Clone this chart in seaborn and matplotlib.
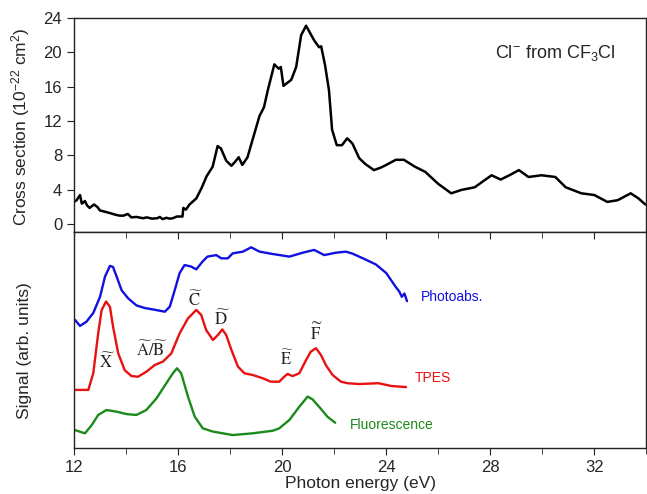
import numpy as np
import pandas as pd
import matplotlib
matplotlib.use("Agg")
import matplotlib.pyplot as plt
import seaborn as sns

# Cl- cross section (top panel), photon energy in eV / 1e-22 cm^2
xs_energy = [12.0, 12.1, 12.23, 12.3, 12.42, 12.5, 12.6, 12.77, 12.9, 13.0, 13.2, 13.38, 13.6,
             13.76, 13.9, 14.07, 14.2, 14.4, 14.65, 14.8, 15.0, 15.2, 15.3, 15.4, 15.55, 15.68,
             15.8, 15.95, 16.17, 16.2, 16.3, 16.44, 16.7, 16.9, 17.1, 17.33, 17.52, 17.65, 17.85,
             18.05, 18.2, 18.33, 18.47, 18.67, 18.86, 19.13, 19.3, 19.45, 19.7, 19.87, 19.95,
             20.05, 20.35, 20.54, 20.73, 20.92, 21.23, 21.42, 21.5, 21.65, 21.8, 21.92, 22.1,
             22.3, 22.5, 22.7, 22.96, 23.2, 23.53, 23.8, 24.0, 24.37, 24.68, 25.1, 25.5, 26.0,
             26.5, 26.9, 27.4, 28.05, 28.4, 28.8, 29.1, 29.47, 29.97, 30.5, 30.9, 31.5, 32.0,
             32.5, 32.9, 33.4, 33.7, 33.96]
xs_sigma = [2.6, 2.8, 3.4, 2.4, 2.7, 2.2, 1.9, 2.3, 2.0, 1.6, 1.45, 1.3, 1.1,
            1.0, 1.0, 1.2, 0.8, 0.85, 0.7, 0.8, 0.65, 0.7, 0.85, 0.6, 0.75, 0.65,
            0.7, 0.9, 0.9, 1.9, 1.7, 2.3, 3.0, 4.2, 5.6, 6.7, 9.1, 8.8, 7.4,
            6.8, 7.3, 7.8, 6.9, 7.8, 9.8, 12.6, 13.6, 15.6, 18.6, 18.1, 18.3,
            16.1, 16.8, 18.3, 22.0, 23.1, 21.4, 20.6, 20.7, 18.5, 15.6, 11.0, 9.2,
            9.2, 10.0, 9.4, 7.7, 7.0, 6.3, 6.6, 6.9, 7.5, 7.5, 6.7, 6.1, 4.7,
            3.6, 4.0, 4.3, 5.7, 5.2, 5.8, 6.3, 5.5, 5.7, 5.5, 4.3, 3.6, 3.4,
            2.6, 2.8, 3.6, 3.0, 2.3]

# bottom panel signals (arb. units, offset as in the original)
pa_energy = [12.04, 12.23, 12.48, 12.74, 13.0, 13.19, 13.38, 13.5, 13.64, 13.83, 14.08, 14.4,
             14.72, 15.1, 15.49, 15.68, 15.87, 16.06, 16.25, 16.5, 16.7, 16.94, 17.13, 17.47,
             17.66, 17.91, 18.1, 18.49, 18.81, 19.13, 19.64, 20.28, 20.79, 21.23, 21.62,
             22.06, 22.45, 22.7, 23.07, 23.6, 24.0, 24.37, 24.5, 24.6, 24.7, 24.8]
pa_signal = [5.93, 5.65, 5.85, 6.25, 7.0, 7.93, 8.43, 8.38, 7.93, 7.3, 6.93, 6.6,
             6.48, 6.4, 6.31, 6.54, 7.3, 8.1, 8.47, 8.4, 8.27, 8.63, 8.86, 8.93,
             8.78, 8.78, 9.01, 9.09, 9.29, 9.09, 8.98, 8.86, 9.04, 9.17, 8.93,
             9.04, 9.09, 9.0, 8.8, 8.5, 8.1, 7.45, 7.25, 7.0, 7.15, 6.8]

tpes_energy = [12.04, 12.55, 12.74, 12.93, 13.06, 13.23, 13.38, 13.5, 13.7, 13.95, 14.21,
               14.46, 14.78, 15.1, 15.42, 15.74, 16.06, 16.38, 16.7, 16.89, 17.08, 17.34,
               17.53, 17.7, 17.85, 18.05, 18.3, 18.55, 18.87, 19.25, 19.57, 19.89, 20.08,
               20.21, 20.4, 20.66, 20.92, 21.1, 21.3, 21.49, 21.68, 21.94, 22.26, 22.51,
               22.96, 23.7, 24.2, 24.76]
tpes_signal = [2.69, 2.69, 3.46, 5.31, 6.38, 6.78, 6.54, 5.62, 4.38, 3.6, 3.33,
               3.3, 3.53, 3.84, 4.0, 4.38, 5.31, 6.0, 6.39, 6.16, 5.46, 5.0,
               5.23, 5.49, 5.23, 4.54, 3.77, 3.46, 3.38, 3.23, 3.07, 3.07, 3.3,
               3.43, 3.33, 3.46, 4.07, 4.46, 4.62, 4.31, 3.84, 3.38, 3.07, 3.0,
               2.96, 3.0, 2.87, 2.82]

fl_energy = [12.04, 12.42, 12.68, 12.93, 13.25, 13.64, 14.02, 14.4, 14.78, 15.17, 15.55,
             15.8, 15.96, 16.12, 16.38, 16.64, 16.95, 17.34, 18.1, 18.87, 19.64, 19.89,
             20.28, 20.66, 20.98, 21.17, 21.42, 21.74, 22.04]
fl_signal = [0.83, 0.68, 1.06, 1.53, 1.76, 1.68, 1.57, 1.53, 1.76, 2.3, 3.0,
             3.46, 3.69, 3.46, 2.38, 1.45, 0.91, 0.76, 0.6, 0.68, 0.8, 0.91,
             1.3, 1.91, 2.38, 2.25, 1.91, 1.45, 1.17]

series_names = ["Photoabs.", "TPES", "Fluorescence"]
series_colors = ["#1010e0", "#e81010", "#1a8a1a"]
series_label_pos = [(25.35, 7.0), (25.1, 3.24), (22.6, 1.06)]

peak_labels = [r"$\widetilde{\mathrm{X}}$", r"$\widetilde{\mathrm{A}}/\widetilde{\mathrm{B}}$",
               r"$\widetilde{\mathrm{C}}$", r"$\widetilde{\mathrm{D}}$",
               r"$\widetilde{\mathrm{E}}$", r"$\widetilde{\mathrm{F}}$"]
peak_pos = [(13.26, 4.0), (14.98, 4.6), (16.67, 6.9), (17.7, 6.0), (20.2, 4.16), (21.3, 5.37)]

sns.set_style("ticks")
plt.rcParams["font.family"] = ["Liberation Sans", "DejaVu Sans"]
plt.rcParams["mathtext.fontset"] = "custom"
plt.rcParams["mathtext.rm"] = "Liberation Sans"
plt.rcParams["mathtext.it"] = "Liberation Sans:italic"
plt.rcParams["axes.linewidth"] = 1.0
plt.rcParams["axes.edgecolor"] = "#222222"

fig = plt.figure(figsize=(6.47, 4.94), dpi=100)
ax1 = fig.add_axes([0.1144, 0.5304, 0.8846, 0.4332])
ax2 = fig.add_axes([0.1144, 0.0931, 0.8846, 0.4373], sharex=ax1)

df_top = pd.DataFrame({"energy": xs_energy, "sigma": xs_sigma})
sns.lineplot(data=df_top, x="energy", y="sigma", ax=ax1, color="black", lw=1.8,
             sort=False, estimator=None)
ax1.set_ylim(-0.9, 24)
ax1.set_yticks(np.arange(0, 25, 4))
ax1.set_ylabel(r"Cross section (10$^{-22}$ cm$^2$)", fontsize=12.5)
ax1.yaxis.set_label_coords(-0.073, 0.49)
ax1.set_xlabel("")
ax1.tick_params(axis="x", bottom=False, labelbottom=False)
ax1.tick_params(axis="y", direction="out", length=5, labelsize=12, color="#222222")
ax1.text(28.2, 19.9, r"Cl$^{-}$ from CF$_3$Cl", fontsize=13, va="center", ha="left")

for energy, signal, name, color in zip([pa_energy, tpes_energy, fl_energy],
                                       [pa_signal, tpes_signal, fl_signal],
                                       series_names, series_colors):
    d = pd.DataFrame({"energy": energy, "signal": signal})
    sns.lineplot(data=d, x="energy", y="signal", ax=ax2, color=color, lw=1.7,
                 sort=False, estimator=None)

for name, color, (tx, ty) in zip(series_names, series_colors, series_label_pos):
    ax2.text(tx, ty, name, color=color, fontsize=10, va="center", ha="left")

for lab, (px, py) in zip(peak_labels, peak_pos):
    ax2.text(px, py, lab, fontsize=12, ha="center", va="center", math_fontfamily="stix",
             color="#222222")

ax2.set_xlim(12, 34)
ax2.set_ylim(0, 10)
ax2.set_xticks(np.arange(12, 35, 4))
ax2.set_xticks(np.arange(14, 35, 4), minor=True)
ax2.set_yticks([])
ax2.set_xlabel("Photon energy (eV)", fontsize=12.5, labelpad=1)
ax2.set_ylabel("Signal (arb. units)", fontsize=12.5)
ax2.yaxis.set_label_coords(-0.073, 0.45)
ax2.tick_params(axis="x", which="both", direction="out", top=True, labelsize=12,
                color="#222222")
ax2.tick_params(axis="x", which="major", length=5)
ax2.tick_params(axis="x", which="minor", length=4)

# ticks on top edge of lower panel point inward
for t in ax2.xaxis.get_major_ticks() + ax2.xaxis.get_minor_ticks():
    t.tick2line.set_marker(matplotlib.lines.TICKDOWN)

for ax in (ax1, ax2):
    for s in ax.spines.values():
        s.set_visible(True)

fig.savefig("out.png", dpi=100)
